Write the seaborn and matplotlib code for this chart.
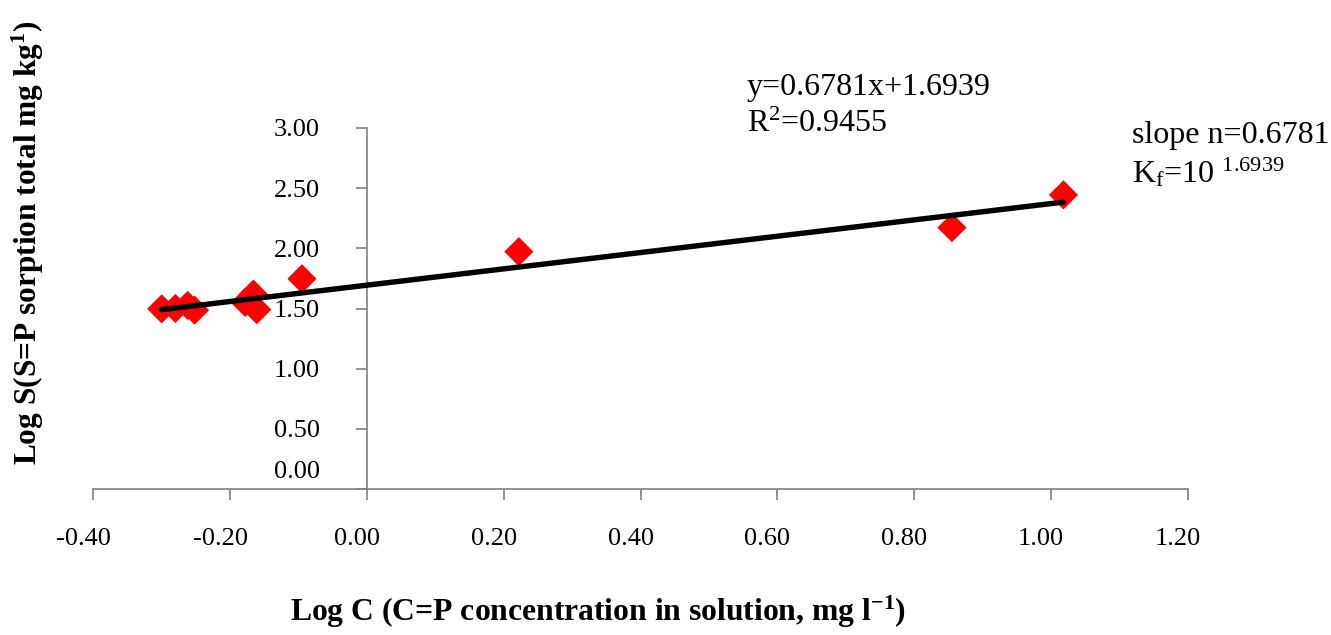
import matplotlib
matplotlib.use("Agg")
import matplotlib.pyplot as plt
import matplotlib.transforms as mtransforms
import seaborn as sns
import pandas as pd

# Freundlich isotherm data (log-transformed)
log_c = [-0.300, -0.280, -0.262, -0.252, -0.178, -0.166, -0.161, -0.095, 0.222, 0.855, 1.018]
log_s = [1.497, 1.500, 1.525, 1.486, 1.550, 1.620, 1.490, 1.747, 1.972, 2.172, 2.444]

slope = 0.6781
intercept = 1.6939
r_squared = 0.9455

x_ticks = [-0.40, -0.20, 0.00, 0.20, 0.40, 0.60, 0.80, 1.00, 1.20]
y_ticks = [0.00, 0.50, 1.00, 1.50, 2.00, 2.50, 3.00]

sns.set_style("white")
plt.rcParams["font.family"] = ["Liberation Serif", "DejaVu Serif"]
plt.rcParams["mathtext.fontset"] = "custom"
plt.rcParams["mathtext.rm"] = "Liberation Serif"
plt.rcParams["mathtext.it"] = "Liberation Serif"
plt.rcParams["mathtext.bf"] = "Liberation Serif:bold"
plt.rcParams["text.color"] = "black"
plt.rcParams["axes.labelcolor"] = "black"
plt.rcParams["xtick.color"] = "black"
plt.rcParams["ytick.color"] = "black"

W, H = 1331, 635
fig = plt.figure(figsize=(W / 100, H / 100), dpi=100)
ax = fig.add_axes([93.3 / W, 1 - 489 / H, (1188 - 93.3) / W, (489 - 128) / H])

pts = pd.DataFrame({"logC": log_c, "logS": log_s})
fit = pd.DataFrame({"logC": [min(log_c), max(log_c)]})
fit["logS"] = slope * fit["logC"] + intercept

sns.lineplot(data=fit, x="logC", y="logS", color="black", linewidth=3.9, ax=ax, zorder=3)
sns.scatterplot(data=pts, x="logC", y="logS", marker="D", s=220, color="#FF0000",
                edgecolor="none", linewidth=0, ax=ax, zorder=2)

ax.set_xlim(-0.40, 1.20)
ax.set_ylim(0.0, 3.0)
ax.set_xticks(x_ticks)
ax.set_yticks(y_ticks)
ax.set_xticklabels([f"{v:.2f}" for v in x_ticks])
ax.set_yticklabels([f"{v:.2f}" for v in y_ticks])
ax.set_xlabel("")
ax.set_ylabel("")

for side in ("top", "right"):
    ax.spines[side].set_visible(False)
ax.spines["left"].set_position(("data", 0.0))
for side in ("left", "bottom"):
    ax.spines[side].set_color("#808080")
    ax.spines[side].set_linewidth(1.2)

ax.tick_params(axis="both", which="major", bottom=True, left=True, top=False, right=False,
               direction="out", length=8, width=1.2, color="#808080",
               labelsize=19, labelcolor="black")
ax.tick_params(axis="x", pad=20)
ax.tick_params(axis="y", pad=26)

# x tick labels sit slightly left of their ticks
shift_x = mtransforms.ScaledTranslation(-10 / 100, 0, fig.dpi_scale_trans)
for lbl in ax.get_xticklabels():
    lbl.set_transform(lbl.get_transform() + shift_x)
# lift the 0.00 label clear of the horizontal axis
ylbls = ax.get_yticklabels()
ylbls[0].set_transform(ylbls[0].get_transform()
                       + mtransforms.ScaledTranslation(0, 19 / 100, fig.dpi_scale_trans))

fig.text(598 / W, 1 - 612 / H, r"Log C (C=P concentration in solution, mg l$^{\mathbf{-1}}$)",
         fontsize=22.8, fontweight="bold", ha="center", va="center", color="black")
fig.text(28 / W, 1 - 243 / H, r"Log S(S=P sorption total mg kg$^{\mathbf{1}}$)",
         fontsize=22.6, fontweight="bold", ha="center", va="center", rotation=90, color="black")

fig.text(747 / W, 1 - 88 / H, f"y={slope:.4f}x+{intercept:.4f}",
         fontsize=23, ha="left", va="center", color="black")
fig.text(747 / W, 1 - 124 / H, rf"R$^{{2}}$={r_squared:.4f}",
         fontsize=23, ha="left", va="center", color="black")
fig.text(1132 / W, 1 - 135 / H, f"slope n={slope:.4f}",
         fontsize=23, ha="left", va="center", color="black")
fig.text(1132 / W, 1 - 173 / H, rf"K$_{{f}}$=10 $^{{{intercept:.4f}}}$",
         fontsize=23, ha="left", va="center", color="black")

fig.savefig("out.png", dpi=100)
